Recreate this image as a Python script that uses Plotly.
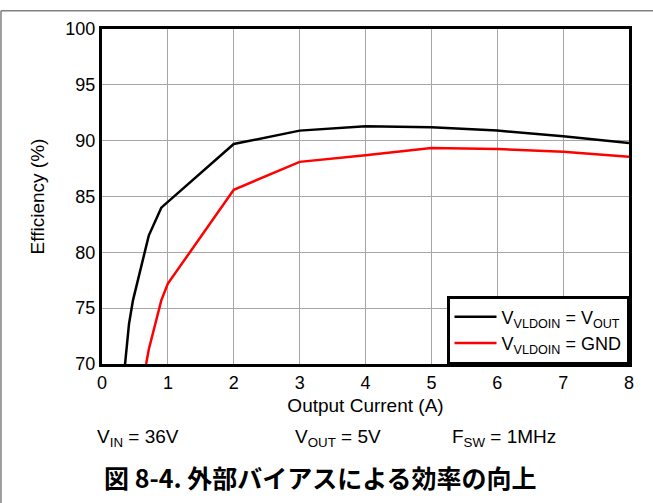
import plotly.graph_objects as go

# Efficiency vs output current, two VLDOIN bias configurations
current_vout = [0.35, 0.41, 0.47, 0.71, 0.90, 2.0, 3.0, 4.0, 5.0, 6.0, 7.0, 8.0]
eff_vout = [70.0, 73.6, 75.7, 81.5, 84.0, 89.7, 90.9, 91.3, 91.2, 90.9, 90.4, 89.8]

current_gnd = [0.67, 0.71, 0.90, 1.0, 2.0, 3.0, 4.0, 5.0, 6.0, 7.0, 8.0]
eff_gnd = [70.0, 71.3, 75.7, 77.2, 85.6, 88.1, 88.7, 89.35, 89.25, 89.0, 88.55]

x_ticks = [0, 1, 2, 3, 4, 5, 6, 7, 8]
y_ticks = [70, 75, 80, 85, 90, 95, 100]

FONT = "Liberation Sans, Arial, sans-serif"

fig = go.Figure()
fig.add_trace(go.Scatter(
    x=current_vout, y=eff_vout, mode="lines",
    line=dict(color="black", width=2.5),
    name="V<sub>VLDOIN</sub> = V<sub>OUT</sub>",
))
fig.add_trace(go.Scatter(
    x=current_gnd, y=eff_gnd, mode="lines",
    line=dict(color="#ff0000", width=2.5),
    name="V<sub>VLDOIN</sub> = GND",
))

axis_common = dict(
    showgrid=True, gridcolor="#a6a6a6", gridwidth=1,
    showline=True, linecolor="black", linewidth=3, mirror=True,
    zeroline=False, ticks="",
    tickfont=dict(family=FONT, size=18, color="black"),
    title_font=dict(family=FONT, size=19, color="black"),
)

fig.update_xaxes(range=[0, 8], tickvals=x_ticks,
                 title_text="Output Current (A)", title_standoff=8,
                 **axis_common)
fig.update_yaxes(range=[70, 100], tickvals=y_ticks,
                 title_text="Efficiency (%)", title_standoff=16,
                 **axis_common)

ann_font = dict(family=FONT, size=19, color="black")

fig.update_layout(
    width=653, height=503,
    margin=dict(l=102, r=24, t=29, b=139),
    paper_bgcolor="white", plot_bgcolor="white",
    showlegend=True,
    legend=dict(
        x=1, y=0, xanchor="right", yanchor="bottom",
        bgcolor="white", bordercolor="black", borderwidth=2.5,
        font=dict(family=FONT, size=18, color="black"),
        tracegroupgap=0, itemwidth=42,
    ),
    annotations=[
        dict(text="V<sub>IN</sub> = 36V", xref="paper", yref="paper",
             x=-0.0133, y=-0.222, xanchor="left", yanchor="middle",
             showarrow=False, font=ann_font),
        dict(text="V<sub>OUT</sub> = 5V", xref="paper", yref="paper",
             x=0.362, y=-0.222, xanchor="left", yanchor="middle",
             showarrow=False, font=ann_font),
        dict(text="F<sub>SW</sub> = 1MHz", xref="paper", yref="paper",
             x=0.66, y=-0.222, xanchor="left", yanchor="middle",
             showarrow=False, font=ann_font),
        dict(text="<b>図 8-4. 外部バイアスによる効率の向上</b>", xref="paper", yref="paper",
             x=0.0, y=-0.337, xanchor="left", yanchor="middle",
             showarrow=False,
             font=dict(family="Noto Sans CJK JP", size=25, color="black")),
    ],
    shapes=[
        # page frame: top and left rules
        dict(type="line", xref="paper", yref="paper",
             x0=-0.1917, x1=1.1, y0=1.0548, y1=1.0548,
             line=dict(color="#808080", width=1.5)),
        dict(type="line", xref="paper", yref="paper",
             x0=-0.1917, x1=-0.1917, y0=1.0548, y1=-0.5,
             line=dict(color="#808080", width=1.5)),
    ],
)

fig.write_html("out.html")
